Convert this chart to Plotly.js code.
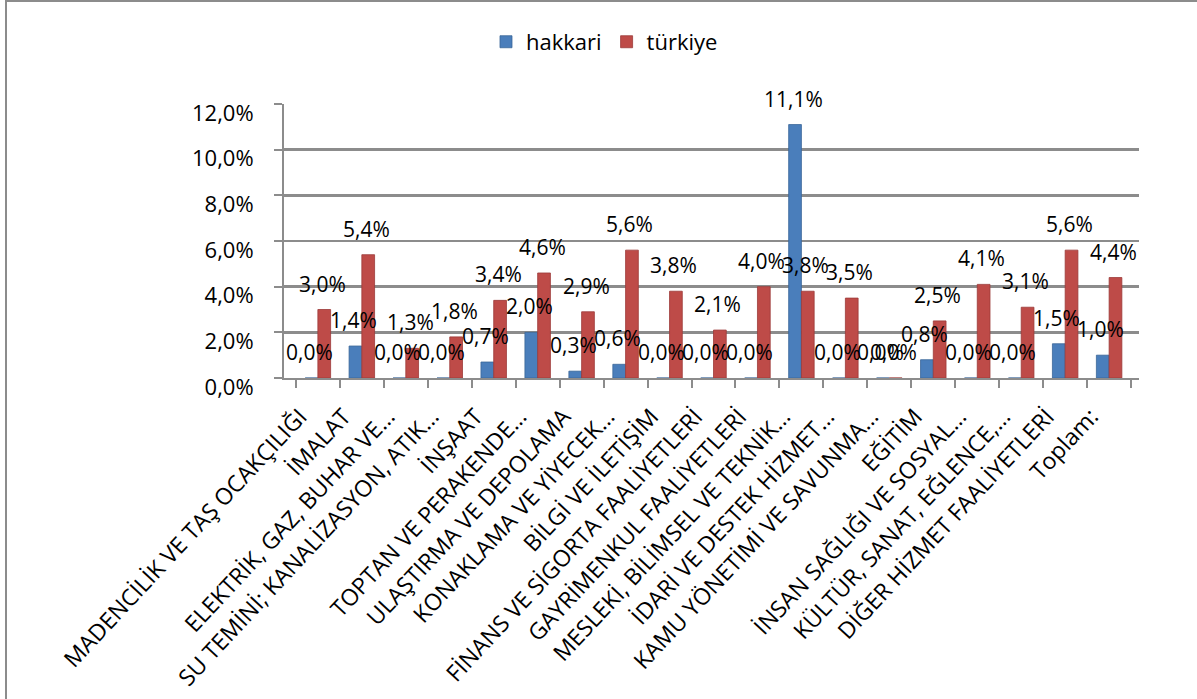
<!DOCTYPE html>
<html>
<head>
<meta charset="utf-8">
<script src="https://cdn.plot.ly/plotly-3.0.1.min.js"></script>
<style>
  html, body { margin: 0; padding: 0; background: #ffffff; }
  #wrap { position: relative; width: 1197px; height: 699px; }
  #chart { width: 1197px; height: 699px; }
  #frame { position: absolute; left: 5px; top: 0px; width: 1300px; height: 800px;
           border-left: 2px solid #8c8c8c; border-top: 2px solid #8c8c8c; pointer-events: none; }
</style>
</head>
<body>
<div id="wrap">
  <div id="chart"></div>
  <div id="frame"></div>
</div>
<script>
const categories = [
  "MADENCİLİK VE TAŞ OCAKÇILIĞI",
  "İMALAT",
  "ELEKTRİK, GAZ, BUHAR VE…",
  "SU TEMİNİ; KANALİZASYON, ATIK…",
  "İNŞAAT",
  "TOPTAN VE PERAKENDE…",
  "ULAŞTIRMA VE DEPOLAMA",
  "KONAKLAMA VE YİYECEK…",
  "BİLGİ VE İLETİŞİM",
  "FİNANS VE SİGORTA FAALİYETLERİ",
  "GAYRİMENKUL FAALİYETLERİ",
  "MESLEKİ, BİLİMSEL VE TEKNİK…",
  "İDARİ VE DESTEK HİZMET…",
  "KAMU YÖNETİMİ VE SAVUNMA…",
  "EĞİTİM",
  "İNSAN SAĞLIĞI VE SOSYAL…",
  "KÜLTÜR, SANAT, EĞLENCE,…",
  "DİĞER HİZMET FAALİYETLERİ",
  "Toplam:"
];
const hakkari = [0.0, 1.4, 0.0, 0.0, 0.7, 2.0, 0.3, 0.6, 0.0, 0.0, 0.0, 11.1, 0.0, 0.0, 0.8, 0.0, 0.0, 1.5, 1.0];
const turkiye = [3.0, 5.4, 1.3, 1.8, 3.4, 4.6, 2.9, 5.6, 3.8, 2.1, 4.0, 3.8, 3.5, 0.0, 2.5, 4.1, 3.1, 5.6, 4.4];
const seriesNames = ["hakkari", "türkiye"];
const yTicks = [0, 2, 4, 6, 8, 10, 12];

const FONT = "'Open Sans', 'Noto Sans', sans-serif";
const BARGAP = 0.42;
const half = (1 - BARGAP) / 4;   // offset of each bar centre from category centre

function fmt(v) { return v.toFixed(1).replace('.', ',') + '%'; }

const traces = [
  { type: 'bar', name: seriesNames[0], x: categories, y: hakkari,
    marker: { color: '#4a7ebb', line: { color: '#3a6698', width: 0.8 } }, hoverinfo: 'skip' },
  { type: 'bar', name: seriesNames[1], x: categories, y: turkiye,
    marker: { color: '#be4b48', line: { color: '#9c3a38', width: 0.8 } }, hoverinfo: 'skip' }
];

const annotations = [];
[hakkari, turkiye].forEach((arr, s) => {
  arr.forEach((v, i) => {
    annotations.push({
      x: i + (s === 0 ? -half : half), y: v, xref: 'x', yref: 'y',
      text: fmt(v), showarrow: false, xanchor: 'center', yanchor: 'middle',
      yshift: 26, xshift: -2,
      font: { family: FONT, size: 21, color: '#000000' }
    });
  });
});

const layout = {
  width: 1197, height: 699,
  margin: { l: 284, r: 58, t: 104, b: 321 },
  paper_bgcolor: '#ffffff', plot_bgcolor: '#ffffff',
  separators: ',.',
  barmode: 'group', bargap: BARGAP, bargroupgap: 0,
  showlegend: true,
  legend: {
    orientation: 'h', xref: 'container', yref: 'container',
    x: 0.505, xanchor: 'center', y: 0.94, yanchor: 'middle',
    font: { family: FONT, size: 22, color: '#000000' }, itemwidth: 30
  },
  xaxis: {
    type: 'category', tickangle: -47, tickson: 'boundaries',
    ticks: 'outside', ticklen: 8, tickcolor: '#8c8c8c', tickwidth: 2,
    showline: true, linecolor: '#8c8c8c', linewidth: 2,
    showgrid: false, automargin: false, ticklabelstandoff: 14, ticklabelshift: -18,
    tickfont: { family: FONT, size: 23, color: '#000000' }
  },
  yaxis: {
    range: [0, 12], tickmode: 'array', tickvals: yTicks, ticktext: yTicks.map(fmt),
    ticks: 'outside', ticklen: 8, tickcolor: '#8c8c8c', tickwidth: 2,
    showline: true, linecolor: '#8c8c8c', linewidth: 2,
    showgrid: true, gridcolor: '#8c8c8c', gridwidth: 2.5,
    zeroline: false, automargin: false, ticklabelstandoff: 16, ticklabelshift: 9,
    tickfont: { family: FONT, size: 22, color: '#000000' }
  },
  annotations: annotations
};

Plotly.newPlot('chart', traces, layout, { staticPlot: true, displayModeBar: false });
</script>
</body>
</html>
